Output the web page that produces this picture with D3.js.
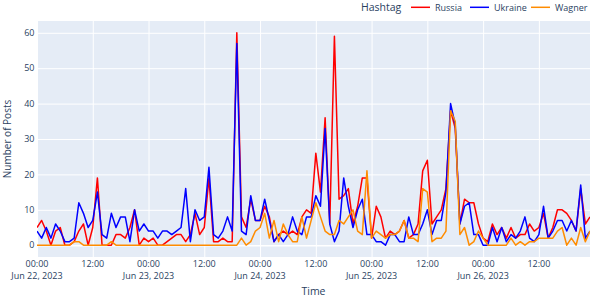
<!DOCTYPE html>
<html>
<head>
<meta charset="utf-8">
<script src="https://cdn.jsdelivr.net/npm/d3@7"></script>
<style>
  html, body { margin: 0; padding: 0; background: #fff; }
  svg { display: block; }
  text { font-family: "Open Sans", "DejaVu Sans", Arial, sans-serif; fill: #2a3f5f; }
</style>
</head>
<body>
<svg id="chart" width="590" height="298"></svg>
<script>
// ---- data (hourly counts, Jun 22 00:00 UTC .. Jun 26 23:00 UTC) ----
const startTime = "2023-06-22T00:00:00Z";
const seriesNames = ["Russia", "Ukraine", "Wagner"];
const seriesColors = ["#ff0000", "#0000ff", "#ff8c00"];

const russia = [
  5, 7, 4, 0, 4, 5, 0, 0, 1, 4, 6, 0, 5, 19, 0, 0, 0, 3, 3, 2, 5, 10, 0, 2,
  1, 2, 0, 0, 1, 2, 3, 3, 1, 3, 9, 3, 5, 19, 1, 1, 2, 1, 1, 60, 8, 5, 13, 7,
  7, 11, 8, 1, 3, 4, 3, 4, 3, 8, 10, 9, 26, 15, 36, 6, 59, 13, 14, 16, 6, 11, 19, 19,
  2, 11, 8, 2, 4, 3, 4, 7, 2, 3, 6, 21, 24, 6, 8, 10, 16, 38, 33, 6, 13, 12, 12, 6,
  2, 1, 6, 3, 5, 2, 5, 2, 3, 3, 6, 4, 5, 9, 2, 5, 10, 10, 9, 7, 4, 16, 6, 8
];
const ukraine = [
  4, 2, 5, 2, 6, 4, 1, 1, 2, 12, 9, 5, 7, 15, 3, 2, 9, 5, 8, 8, 1, 10, 4, 6,
  4, 4, 2, 4, 4, 3, 4, 5, 16, 1, 10, 7, 8, 22, 3, 2, 4, 8, 4, 57, 4, 3, 14, 7,
  7, 13, 7, 1, 3, 1, 3, 8, 4, 3, 8, 8, 14, 11, 33, 6, 1, 4, 19, 11, 5, 10, 13, 3,
  3, 1, 1, 0, 3, 3, 1, 1, 8, 3, 3, 6, 10, 3, 7, 7, 15, 40, 34, 6, 11, 12, 3, 3,
  0, 0, 5, 1, 5, 1, 3, 2, 4, 8, 2, 1, 3, 11, 2, 4, 7, 7, 4, 7, 4, 17, 2, 4
];
const wagner = [
  0, 0, 0, 0, 0, 0, 0, 0, 1, 1, 0, 0, 0, 0, 0, 0, 1, 0, 0, 0, 0, 0, 0, 0,
  0, 0, 0, 0, 0, 0, 0, 0, 0, 0, 0, 0, 0, 0, 0, 0, 0, 0, 0, 0, 2, 0, 1, 4,
  5, 9, 2, 7, 1, 6, 3, 1, 1, 8, 2, 7, 12, 8, 4, 3, 3, 7, 6, 8, 10, 4, 3, 21,
  2, 4, 3, 2, 3, 3, 4, 7, 2, 2, 1, 16, 15, 1, 2, 2, 4, 38, 35, 3, 5, 0, 1, 4,
  2, 0, 0, 0, 0, 0, 2, 0, 1, 0, 1, 1, 2, 2, 2, 2, 4, 5, 0, 2, 0, 5, 1, 4
];

const yTicks = [0, 10, 20, 30, 40, 50, 60];
const xTickTimes = [
  "2023-06-22T00:00:00Z", "2023-06-22T12:00:00Z",
  "2023-06-23T00:00:00Z", "2023-06-23T12:00:00Z",
  "2023-06-24T00:00:00Z", "2023-06-24T12:00:00Z",
  "2023-06-25T00:00:00Z", "2023-06-25T12:00:00Z",
  "2023-06-26T00:00:00Z", "2023-06-26T12:00:00Z"
];
const xTickLabels = ["00:00", "12:00", "00:00", "12:00", "00:00", "12:00", "00:00", "12:00", "00:00", "12:00"];
const xTickDates = ["Jun 22, 2023", "", "Jun 23, 2023", "", "Jun 24, 2023", "", "Jun 25, 2023", "", "Jun 26, 2023", ""];

// ---- layout ----
const plot = { left: 37, right: 590, top: 21, bottom: 257 };
const svg = d3.select("#chart");

const t0 = new Date(startTime);
const times = russia.map((_, i) => d3.utcHour.offset(t0, i));
const allSeries = [russia, ukraine, wagner];

const x = d3.scaleUtc()
  .domain([times[0], times[times.length - 1]])
  .range([plot.left, plot.right]);
const y = d3.scaleLinear()
  .domain([-3.33, 63.33])
  .range([plot.bottom, plot.top]);

// background
svg.append("rect")
  .attr("x", plot.left).attr("y", plot.top)
  .attr("width", plot.right - plot.left).attr("height", plot.bottom - plot.top)
  .attr("fill", "#E5ECF6");

// grid lines via axes
const xt = xTickTimes.map(s => new Date(s));
const gx = svg.append("g")
  .attr("transform", `translate(0,${plot.bottom})`)
  .call(d3.axisBottom(x).tickValues(xt).tickSize(-(plot.bottom - plot.top)).tickFormat(""));
gx.select(".domain").remove();
gx.selectAll(".tick line").attr("stroke", "#fff").attr("stroke-width", 1);

const gy = svg.append("g")
  .attr("transform", `translate(${plot.left},0)`)
  .call(d3.axisLeft(y).tickValues(yTicks).tickSize(-(plot.right - plot.left)).tickFormat(""));
gy.select(".domain").remove();
gy.selectAll(".tick line")
  .attr("stroke", "#fff")
  .attr("stroke-width", d => d === 0 ? 1.6 : 1);

// y tick labels
svg.append("g").selectAll("text")
  .data(yTicks).join("text")
  .attr("x", plot.left - 2.5)
  .attr("y", d => y(d))
  .attr("dy", "0.35em")
  .attr("text-anchor", "end")
  .attr("font-size", 9)
  .text(d => d);

// x tick labels (time line + date line)
const xlg = svg.append("g");
xlg.selectAll("text.time")
  .data(xt).join("text")
  .attr("class", "time")
  .attr("x", d => x(d))
  .attr("y", 266.6)
  .attr("text-anchor", "middle")
  .attr("font-size", 9)
  .text((d, i) => xTickLabels[i]);
xlg.selectAll("text.date")
  .data(xt.filter((d, i) => xTickDates[i] !== "")).join("text")
  .attr("class", "date")
  .attr("x", d => x(d))
  .attr("y", 279)
  .attr("text-anchor", "middle")
  .attr("font-size", 9)
  .text(d => xTickDates[xt.indexOf(d)]);

// lines
svg.append("clipPath").attr("id", "clip")
  .append("rect")
  .attr("x", plot.left).attr("y", plot.top)
  .attr("width", plot.right - plot.left).attr("height", plot.bottom - plot.top);

const line = d3.line().x((d, i) => x(times[i])).y(d => y(d));
const lg = svg.append("g").attr("clip-path", "url(#clip)");
allSeries.forEach((s, k) => {
  lg.append("path")
    .datum(s)
    .attr("fill", "none")
    .attr("stroke", seriesColors[k])
    .attr("stroke-width", 1.5)
    .attr("stroke-linejoin", "round")
    .attr("d", line);
});

// axis titles
svg.append("text")
  .attr("x", (plot.left + plot.right) / 2)
  .attr("y", 294.5)
  .attr("text-anchor", "middle")
  .attr("font-size", 10.5)
  .text("Time");
svg.append("text")
  .attr("transform", `translate(10.8,${(plot.top + plot.bottom) / 2}) rotate(-90)`)
  .attr("text-anchor", "middle")
  .attr("font-size", 10)
  .text("Number of Posts");

// legend
const legend = svg.append("g");
legend.append("text")
  .attr("x", 361).attr("y", 11.4)
  .attr("font-size", 10.5)
  .text("Hashtag");
const legX = [411, 470, 531];
seriesNames.forEach((n, k) => {
  legend.append("line")
    .attr("x1", legX[k]).attr("x2", legX[k] + 19)
    .attr("y1", 7.3).attr("y2", 7.3)
    .attr("stroke", seriesColors[k]).attr("stroke-width", 1.5);
  legend.append("text")
    .attr("x", legX[k] + 24).attr("y", 10.5)
    .attr("font-size", 9)
    .text(n);
});
</script>
</body>
</html>
